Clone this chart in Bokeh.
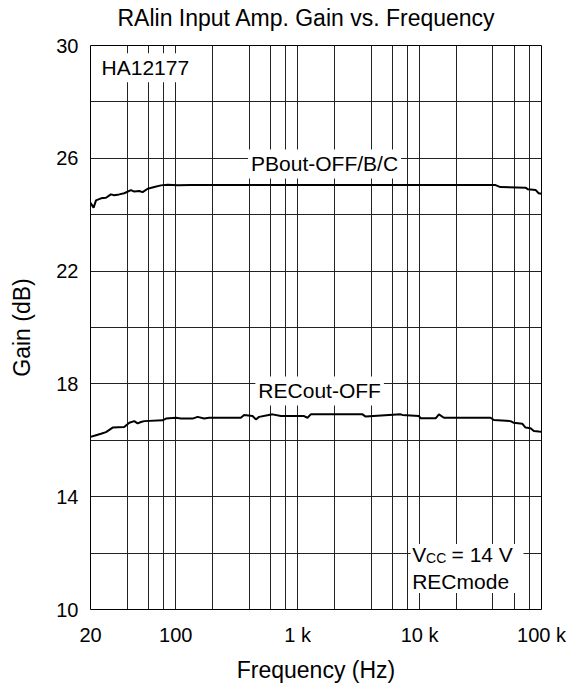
from bokeh.plotting import figure
from bokeh.models import FixedTicker, Range1d, Label, BoxAnnotation, Title
from bokeh.embed import file_html
from bokeh.resources import INLINE

FONT = "Liberation Sans"

# ---- data ----
pb_freq = [20, 21.2, 22.2, 24.4, 26.8, 29.4, 31.3, 34.4, 37.8, 42.9, 45.7, 50.2, 53.5,
           58.9, 66.7, 75.6, 85.8, 104, 133, 300, 1000, 5000, 20000, 42000, 46000,
           74000, 77500, 89300, 94800, 100000]
pb_gain = [24.42, 24.25, 24.51, 24.58, 24.60, 24.72, 24.69, 24.72, 24.76, 24.87, 24.82,
           24.84, 24.80, 24.92, 24.98, 25.04, 25.06, 25.04, 25.05, 25.05, 25.05, 25.05,
           25.05, 25.05, 24.98, 24.96, 24.90, 24.88, 24.76, 24.74]

rec_freq = [20, 22.2, 24.4, 26.8, 30.4, 37.8, 41.6, 45.7, 48.7, 51.9, 55.2, 78.1, 83.1,
            100.3, 110.3, 137.6, 151.1, 171.1, 188.0, 342, 364, 427, 454, 483, 566, 622,
            728, 1129, 1204, 1281, 3400, 3615, 7000, 7228, 9885, 10207, 13545, 14413,
            15840, 38220, 40670, 55730, 59310, 69500, 73960, 81300, 86530, 95080, 100000]
rec_gain = [16.12, 16.18, 16.23, 16.29, 16.45, 16.47, 16.62, 16.68, 16.60, 16.65, 16.68,
            16.71, 16.77, 16.80, 16.77, 16.77, 16.83, 16.77, 16.80, 16.80, 16.90, 16.86,
            16.74, 16.83, 16.89, 16.92, 16.86, 16.86, 16.80, 16.92, 16.92, 16.84, 16.92,
            16.90, 16.86, 16.78, 16.78, 16.92, 16.80, 16.80, 16.72, 16.68, 16.62, 16.59,
            16.45, 16.43, 16.33, 16.31, 16.30]

x_ticks = [20, 100, 1000, 10000, 100000]
x_tick_labels = ["20", "100", "1 k", "10 k", "100 k"]
x_grid = [40, 60, 80, 100, 200, 400, 600, 800, 1000, 2000, 4000, 6000, 8000,
          10000, 20000, 40000, 60000, 80000]
y_ticks = [10, 14, 18, 22, 26, 30]
y_grid = [12, 14, 16, 18, 20, 22, 24, 26, 28]

p = figure(width=568, height=685, x_axis_type="log",
           x_range=Range1d(20, 100000), y_range=Range1d(10, 30),
           output_backend="svg", toolbar_location=None,
           min_border_left=90, min_border_right=27, min_border_top=45,
           min_border_bottom=76,
           title="RAlin Input Amp. Gain vs. Frequency")

p.title.text_font = FONT
p.title.text_font_size = "23px"
p.title.text_font_style = "normal"
p.title.align = "left"
p.title.offset = 27
p.title.standoff = 0
p.title.text_color = "black"

# thin spacer between title and frame
p.add_layout(Title(text=" ", text_font_size="1px", standoff=12), "above")

p.outline_line_color = "black"
p.outline_line_width = 1
p.outline_line_alpha = 1

p.xaxis.ticker = FixedTicker(ticks=x_ticks)
p.xaxis.major_label_overrides = {t: l for t, l in zip(x_ticks, x_tick_labels)}
p.yaxis.ticker = FixedTicker(ticks=y_ticks)
for ax in (p.xaxis, p.yaxis):
    ax.axis_line_color = None
    ax.major_tick_line_color = None
    ax.minor_tick_line_color = None
    ax.major_tick_out = 0
    ax.major_tick_in = 0
    ax.major_label_text_font = FONT
    ax.major_label_text_font_size = "20px"
    ax.major_label_text_color = "black"
    ax.axis_label_text_font = FONT
    ax.axis_label_text_font_size = "23px"
    ax.axis_label_text_font_style = "normal"
    ax.axis_label_text_color = "black"
p.xaxis.axis_label = "Frequency (Hz)"
p.yaxis.axis_label = "Gain (dB)"
p.xaxis.major_label_standoff = 14
p.xaxis.axis_label_standoff = 8
p.yaxis.major_label_standoff = 12
p.yaxis.axis_label_standoff = 18

p.xgrid.ticker = FixedTicker(ticks=x_grid)
p.ygrid.ticker = FixedTicker(ticks=y_grid)
for g in (p.xgrid, p.ygrid):
    g.grid_line_color = "#222222"
    g.grid_line_width = 1
    g.grid_line_alpha = 1

p.line(pb_freq, pb_gain, line_color="black", line_width=2)
p.line(rec_freq, rec_gain, line_color="black", line_width=2)

def lab(x, y, text, size="21px", bg=True, align="left"):
    l = Label(x=x, y=y, text=text, text_font=FONT, text_font_size=size,
              text_color="black", text_baseline="alphabetic", text_align=align)
    if bg:
        l.background_fill_color = "white"
        l.padding = 3
    p.add_layout(l)

lab(23.3, 29.21, "HA12177")
lab(392, 25.80, "PBout-OFF/B/C")
lab(450, 17.75, "RECout-OFF")

p.add_layout(BoxAnnotation(left=8450, right=71200, bottom=10.585, top=12.32,
                           fill_color="white", fill_alpha=1, line_color=None))
lab(8700, 11.95, "V", bg=False)
lab(11300, 11.83, "CC", size="14px", bg=False)
lab(18300, 11.95, "= 14 V", bg=False)
lab(8700, 11.0, "RECmode", bg=False)

open("out.html", "w").write(file_html(p, INLINE))
